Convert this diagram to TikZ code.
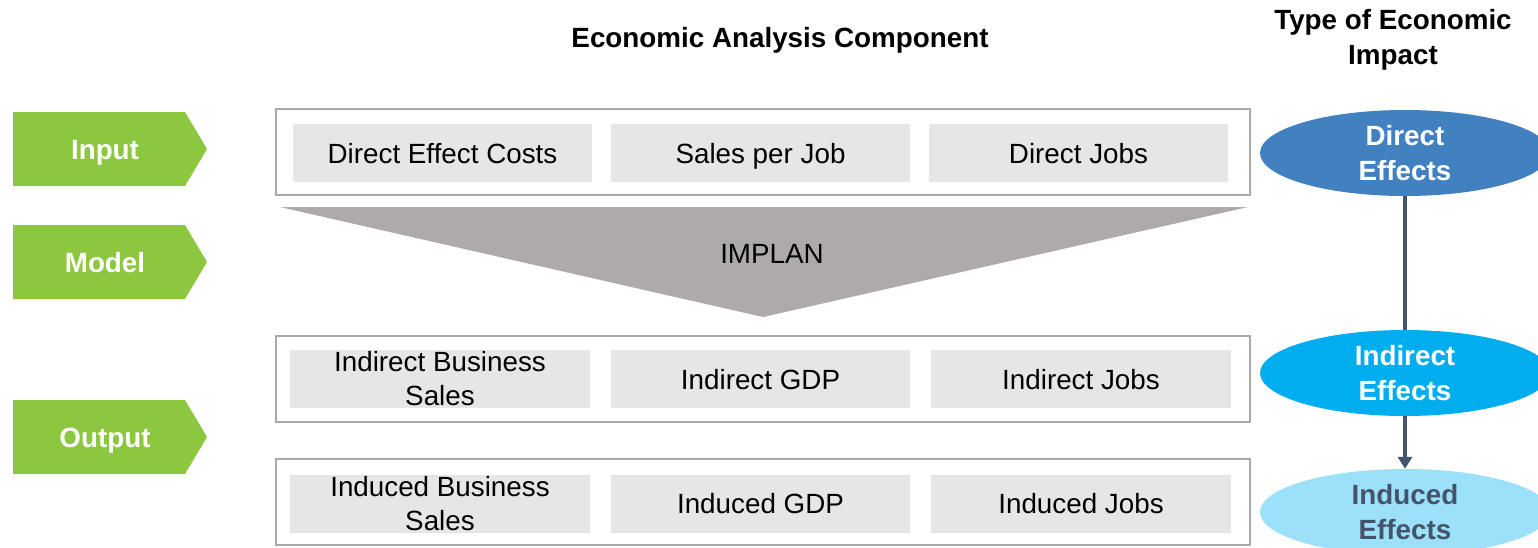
\documentclass[tikz,border=0pt]{standalone}
\usepackage{fontspec}
\setmainfont{Liberation Sans}
\usetikzlibrary{shapes.geometric,arrows.meta}
\definecolor{ogreen}{HTML}{8DC63F}
\definecolor{boxgray}{HTML}{E6E6E6}
\definecolor{framegray}{HTML}{A9A9A9}
\definecolor{funnelgray}{HTML}{AEAAAA}
\definecolor{dblue}{HTML}{4181BF}
\definecolor{iblue}{HTML}{00ADEE}
\definecolor{lblue}{HTML}{9CE0FA}
\definecolor{slate}{HTML}{44546A}
\tikzset{
  txt/.style={font=\fontsize{27.8}{34}\selectfont},
  btxt/.style={font=\fontsize{27.8}{34.5}\selectfont\bfseries},
  oneline/.style={text height=20pt, text depth=0pt},
  frame/.style={draw=framegray, line width=2pt, fill=white},
  cell/.style={fill=boxgray, txt, align=center, inner sep=0pt},
  tag/.style={fill=ogreen},
  tagtext/.style={btxt, text=white, oneline},
  effect/.style={ellipse, minimum width=290pt, minimum height=86pt, inner sep=0pt, btxt, align=center},
  flow/.style={draw=slate, line width=4pt}
}
\begin{document}
\begin{tikzpicture}[x=1pt,y=-1pt]
\useasboundingbox (0,0) rectangle (1538,547);
\fill[white] (0,0) rectangle (1538,547);

% titles
\node[btxt, oneline] (title) at (780,37) {Economic Analysis Component};
\node[btxt, align=center] (ttitle) at (1393,40) {Type of Economic\\Impact};

% green tags
\foreach \n/\t/\y in {in/Input/149, mo/Model/262, out/Output/437}{
  \fill[tag] (13,\y-37) -- (185,\y-37) -- (207,\y) -- (185,\y+37) -- (13,\y+37) -- cycle;
  \node[tagtext] (tag\n) at (105,\y) {\t};
}

% frames
\node[frame, minimum width=974pt, minimum height=86pt, inner sep=0pt] (f1) at (763,152) {};
\node[frame, minimum width=974pt, minimum height=86pt, inner sep=0pt] (f2) at (763,379) {};
\node[frame, minimum width=974pt, minimum height=86pt, inner sep=0pt] (f3) at (763,502) {};

% cells row 1
\node[cell, oneline, minimum width=299pt, minimum height=58pt] (c11) at (442.5,153) {Direct Effect Costs};
\node[cell, oneline, minimum width=299pt, minimum height=58pt] (c12) at (760.5,153) {Sales per Job};
\node[cell, oneline, minimum width=299pt, minimum height=58pt] (c13) at (1078.5,153) {Direct Jobs};
% row 2
\node[cell, minimum width=300pt, minimum height=58pt] (c21) at (440,379) {Indirect Business\\Sales};
\node[cell, oneline, minimum width=299pt, minimum height=58pt] (c22) at (760.5,379) {Indirect GDP};
\node[cell, oneline, minimum width=300pt, minimum height=58pt] (c23) at (1081,379) {Indirect Jobs};
% row 3
\node[cell, minimum width=300pt, minimum height=58pt] (c31) at (440,503.5) {Induced Business\\Sales};
\node[cell, oneline, minimum width=299pt, minimum height=58pt] (c32) at (760.5,503.5) {Induced GDP};
\node[cell, oneline, minimum width=300pt, minimum height=58pt] (c33) at (1081,503.5) {Induced Jobs};

% funnel
\fill[funnelgray] (280,207) -- (1248,207) -- (763,317) -- cycle;
\node[txt, oneline] (implan) at (772,253) {IMPLAN};

% effects
\node[effect, fill=dblue, text=white] (de) at (1405,153) {Direct\\Effects};
\node[effect, fill=iblue, text=white] (ie) at (1405,373) {Indirect\\Effects};
\node[effect, fill=lblue, text=slate] (ue) at (1405,512) {Induced\\Effects};

\draw[flow] (de.south) -- (ie.north);
\draw[flow, -{Triangle[length=12pt,width=14pt]}] (ie.south) -- (ue.north);
\end{tikzpicture}
\end{document}
